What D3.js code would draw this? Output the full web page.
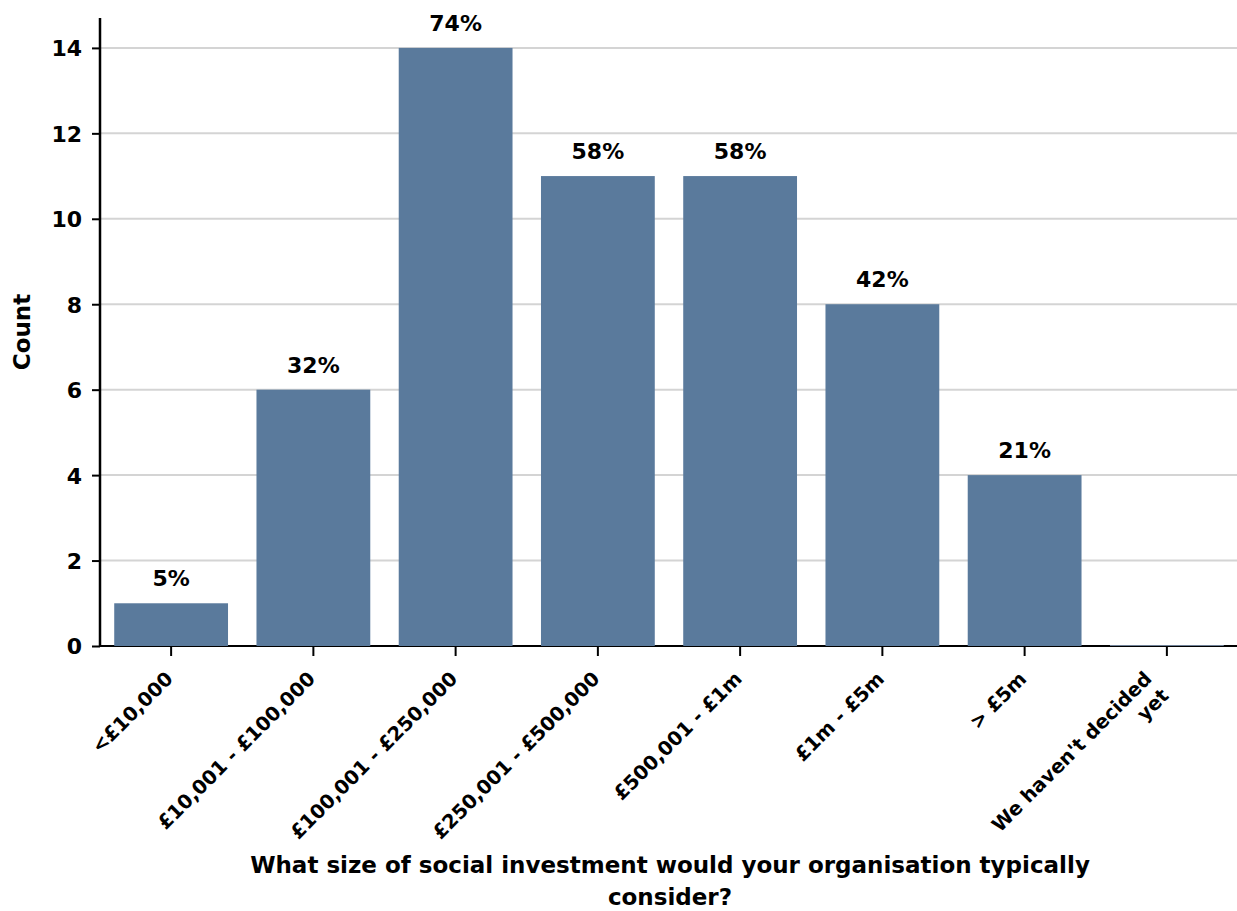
<!DOCTYPE html>
<html>
<head>
<meta charset="utf-8">
<script src="https://cdn.jsdelivr.net/npm/d3@7"></script>
<style>
  html, body { margin: 0; padding: 0; background: #fff; }
  svg text { font-family: "DejaVu Sans", sans-serif; font-weight: 700; fill: #000; }
</style>
</head>
<body>
<svg id="chart" width="1237" height="911"></svg>
<script>
// Survey responses: size of social investment organisations would consider
const categories = [
  "<£10,000",
  "£10,001 - £100,000",
  "£100,001 - £250,000",
  "£250,001 - £500,000",
  "£500,001 - £1m",
  "£1m - £5m",
  "> £5m",
  "We haven't decided\nyet"
];
const counts = [1, 6, 14, 11, 11, 8, 4, 0];
const percents = [5, 32, 74, 58, 58, 42, 21, 0];
const yTicks = [0, 2, 4, 6, 8, 10, 12, 14];

const W = 1237, H = 911;
const margin = { top: 18, right: -1, bottom: 265, left: 100 };
const innerW = W - margin.left - margin.right;
const innerH = H - margin.top - margin.bottom;
const FONT = "'DejaVu Sans', sans-serif";

const svg = d3.select("#chart");
const g = svg.append("g").attr("transform", `translate(${margin.left},${margin.top})`);

const x = d3.scaleBand()
  .domain(categories)
  .range([0, innerW])
  .paddingInner(0.2)
  .paddingOuter(0.1);

const y = d3.scaleLinear()
  .domain([0, 14.7])
  .range([innerH, 0]);

// horizontal gridlines
g.append("g")
  .selectAll("line")
  .data(yTicks)
  .join("line")
  .attr("x1", 0)
  .attr("x2", innerW)
  .attr("y1", d => y(d))
  .attr("y2", d => y(d))
  .attr("stroke", "#d4d4d4")
  .attr("stroke-width", 2);

// y axis
const yAxis = g.append("g")
  .call(d3.axisLeft(y).tickValues(yTicks).tickSize(8).tickPadding(10).tickFormat(d3.format("d")));
yAxis.select(".domain").attr("stroke", "#000").attr("stroke-width", 2.5).attr("d", `M0,${innerH}V0`);
yAxis.selectAll(".tick line").attr("stroke", "#000").attr("stroke-width", 2);
yAxis.selectAll(".tick text").attr("font-size", 22).attr("font-family", FONT).attr("font-weight", 700).attr("dy", "0.36em");

// x axis
const xAxis = g.append("g")
  .attr("transform", `translate(0,${innerH})`)
  .call(d3.axisBottom(x).tickSize(10).tickFormat(""));
xAxis.select(".domain").attr("stroke", "#000").attr("stroke-width", 2).attr("d", `M0,0H${innerW}`);
xAxis.selectAll(".tick line").attr("stroke", "#000").attr("stroke-width", 2);

// bars
const barColor = "#5a7a9c";
g.append("g")
  .selectAll("rect")
  .data(categories)
  .join("rect")
  .attr("x", d => x(d))
  .attr("width", x.bandwidth())
  .attr("y", (d, i) => y(counts[i]) - (counts[i] === 0 ? 1 : 0))
  .attr("height", (d, i) => y(0) - y(counts[i]) + (counts[i] === 0 ? 1 : 0))
  .attr("fill", (d, i) => counts[i] === 0 ? "#6f8197" : barColor);

// percentage labels above bars
g.append("g")
  .selectAll("text")
  .data(categories.filter((d, i) => counts[i] > 0))
  .join("text")
  .attr("x", d => x(d) + x.bandwidth() / 2)
  .attr("y", d => y(counts[categories.indexOf(d)]) - 17)
  .attr("text-anchor", "middle")
  .attr("font-size", 22)
  .text(d => percents[categories.indexOf(d)] + "%");

// rotated category labels, lines right-aligned, block ending at its tick
const labelFont = 19.5;
const lineH = 24;
xAxis.selectAll(".tick").each(function(d) {
  const lines = d.split("\n");
  const shift = (lines.length - 1) * lineH * Math.SQRT1_2;
  const t = d3.select(this).append("text")
    .attr("font-size", labelFont)
    .attr("font-family", FONT)
    .attr("font-weight", 700)
    .attr("text-anchor", "end")
    .attr("transform", `translate(${3 - shift},34) rotate(-45)`);
  lines.forEach((l, k) => t.append("tspan").attr("x", 0).attr("y", k * lineH).text(l));
});

// axis titles
svg.append("text")
  .attr("transform", `translate(30,${margin.top + innerH / 2}) rotate(-90)`)
  .attr("text-anchor", "middle")
  .attr("font-size", 23)
  .text("Count");

const xTitle = svg.append("text")
  .attr("text-anchor", "middle")
  .attr("font-size", 23);
xTitle.append("tspan").attr("x", 670).attr("y", 873).text("What size of social investment would your organisation typically");
xTitle.append("tspan").attr("x", 670).attr("y", 905).text("consider?");
</script>
</body>
</html>
